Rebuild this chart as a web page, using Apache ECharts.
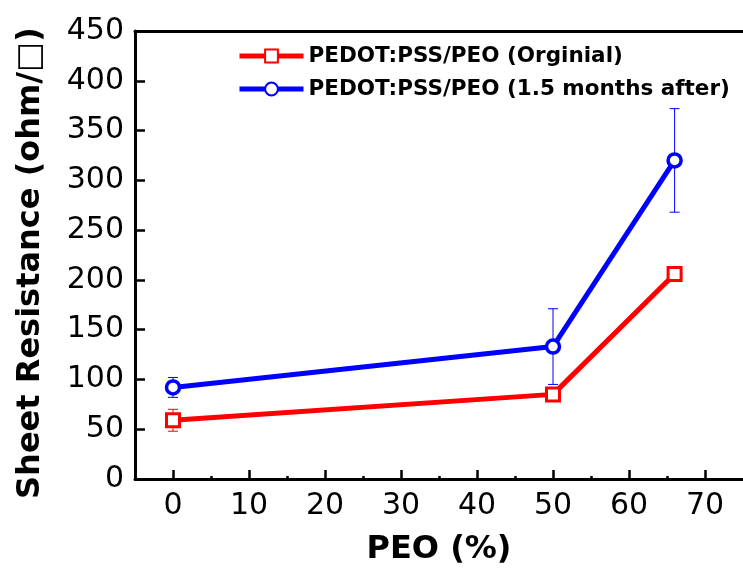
<!DOCTYPE html>
<html>
<head>
<meta charset="utf-8">
<script src="https://cdn.jsdelivr.net/npm/echarts@6/dist/echarts.min.js"></script>
<style>
  html, body { margin: 0; padding: 0; background: #fff; }
  #myChart { width: 743px; height: 571px; }
</style>
</head>
<body>
<div id="myChart"></div>
<script>
// data
const peo = [0, 50, 66]
const original = [59, 85, 206]
const originalErr = [11, 3, 3]
const after = [92, 133, 320]
const afterErr = [10, 38, 52]
const xMajorTicks = [0, 10, 20, 30, 40, 50, 60, 70]
const xMinorTicks = [5, 15, 25, 35, 45, 55, 65]

const nameOrig = 'PEDOT:PSS/PEO (Orginial)'
const nameAfter = 'PEDOT:PSS/PEO (1.5 months after)'
const RED = '#ff0000'
const BLUE = '#0000ff'
const FONT = 'DejaVu Sans'

function errorBars(color) {
    return function (params, api) {
        let x = api.value(0), y = api.value(1), e = api.value(2)
        let top = api.coord([x, y + e])
        let bot = api.coord([x, y - e])
        let hw = 5
        let style = { stroke: color, lineWidth: 1 }
        return {
            type: 'group',
            children: [
                { type: 'line', shape: { x1: top[0], y1: top[1], x2: bot[0], y2: bot[1] }, style: style },
                { type: 'line', shape: { x1: top[0] - hw, y1: top[1], x2: top[0] + hw, y2: top[1] }, style: style },
                { type: 'line', shape: { x1: bot[0] - hw, y1: bot[1], x2: bot[0] + hw, y2: bot[1] }, style: style }
            ]
        }
    }
}

const gridBox = { left: 135, top: 31, width: 614, bottom: 90 }

let myChart = echarts.init(document.getElementById('myChart'))
myChart.setOption({
    animation: false,
    backgroundColor: '#fff',
    textStyle: { fontFamily: FONT, color: '#000' },
    grid: [gridBox, Object.assign({}, gridBox)],
    legend: {
        data: [nameOrig, nameAfter],
        orient: 'vertical',
        left: 237,
        top: 45,
        padding: 0,
        itemWidth: 64,
        itemHeight: 16,
        itemGap: 11,
        lineStyle: { width: 5 },
        textStyle: { fontFamily: FONT, fontWeight: 'bold', fontSize: 21.5, color: '#000' }
    },
    xAxis: [{
        type: 'value',
        gridIndex: 0,
        position: 'bottom',
        min: -5,
        max: 75,
        name: 'PEO (%)',
        nameLocation: 'middle',
        nameGap: 55,
        nameTextStyle: { fontFamily: FONT, fontWeight: 'bold', fontSize: 32, color: '#000' },
        axisLine: { onZero: false, lineStyle: { color: '#000', width: 3 } },
        axisTick: { inside: true, length: 9, lineStyle: { color: '#000', width: 2.5 }, customValues: xMajorTicks },
        axisLabel: { margin: 12, fontSize: 30, color: '#000', customValues: xMajorTicks },
        splitLine: { show: false }
    }, {
        // top frame line
        type: 'value',
        gridIndex: 0,
        position: 'top',
        min: -5,
        max: 75,
        axisLine: { onZero: false, lineStyle: { color: '#000', width: 3 } },
        axisTick: { show: false },
        axisLabel: { show: false },
        splitLine: { show: false }
    }, {
        // minor ticks of the bottom axis, on an overlaid grid
        type: 'value',
        gridIndex: 1,
        position: 'bottom',
        min: -5,
        max: 75,
        axisLine: { show: false, onZero: false },
        axisTick: { inside: true, length: 5, lineStyle: { color: '#000', width: 2.5 }, customValues: xMinorTicks },
        axisLabel: { show: false },
        splitLine: { show: false }
    }],
    yAxis: [{
        type: 'value',
        gridIndex: 0,
        min: 0,
        max: 450,
        interval: 50,
        name: 'Sheet Resistance (ohm/\u25A1)',
        nameLocation: 'middle',
        nameGap: 88,
        nameTextStyle: { fontFamily: FONT, fontWeight: 'bold', fontSize: 32, color: '#000', padding: [0, 16, 0, 0] },
        axisLine: { show: true, onZero: false, lineStyle: { color: '#000', width: 3 } },
        axisTick: { show: true, inside: true, length: 10, lineStyle: { color: '#000', width: 2.5 } },
        axisLabel: { margin: 11, fontSize: 30, color: '#000' },
        splitLine: { show: false }
    }, {
        type: 'value',
        gridIndex: 1,
        min: 0,
        max: 450,
        show: false
    }],
    series: [{
        name: 'errOrig',
        type: 'custom',
        renderItem: errorBars(RED),
        data: peo.map((x, i) => [x, original[i], originalErr[i]]),
        z: 1
    }, {
        name: 'errAfter',
        type: 'custom',
        renderItem: errorBars(BLUE),
        data: peo.map((x, i) => [x, after[i], afterErr[i]]),
        z: 1
    }, {
        name: nameOrig,
        type: 'line',
        data: peo.map((x, i) => [x, original[i]]),
        symbol: 'rect',
        symbolSize: 13,
        showAllSymbol: true,
        lineStyle: { color: RED, width: 5 },
        itemStyle: { color: '#fff', borderColor: RED, borderWidth: 3 },
        z: 3
    }, {
        name: nameAfter,
        type: 'line',
        data: peo.map((x, i) => [x, after[i]]),
        symbol: 'circle',
        symbolSize: 13,
        showAllSymbol: true,
        lineStyle: { color: BLUE, width: 5 },
        itemStyle: { color: '#fff', borderColor: BLUE, borderWidth: 3.5 },
        z: 3
    }]
})
</script>
</body>
</html>
